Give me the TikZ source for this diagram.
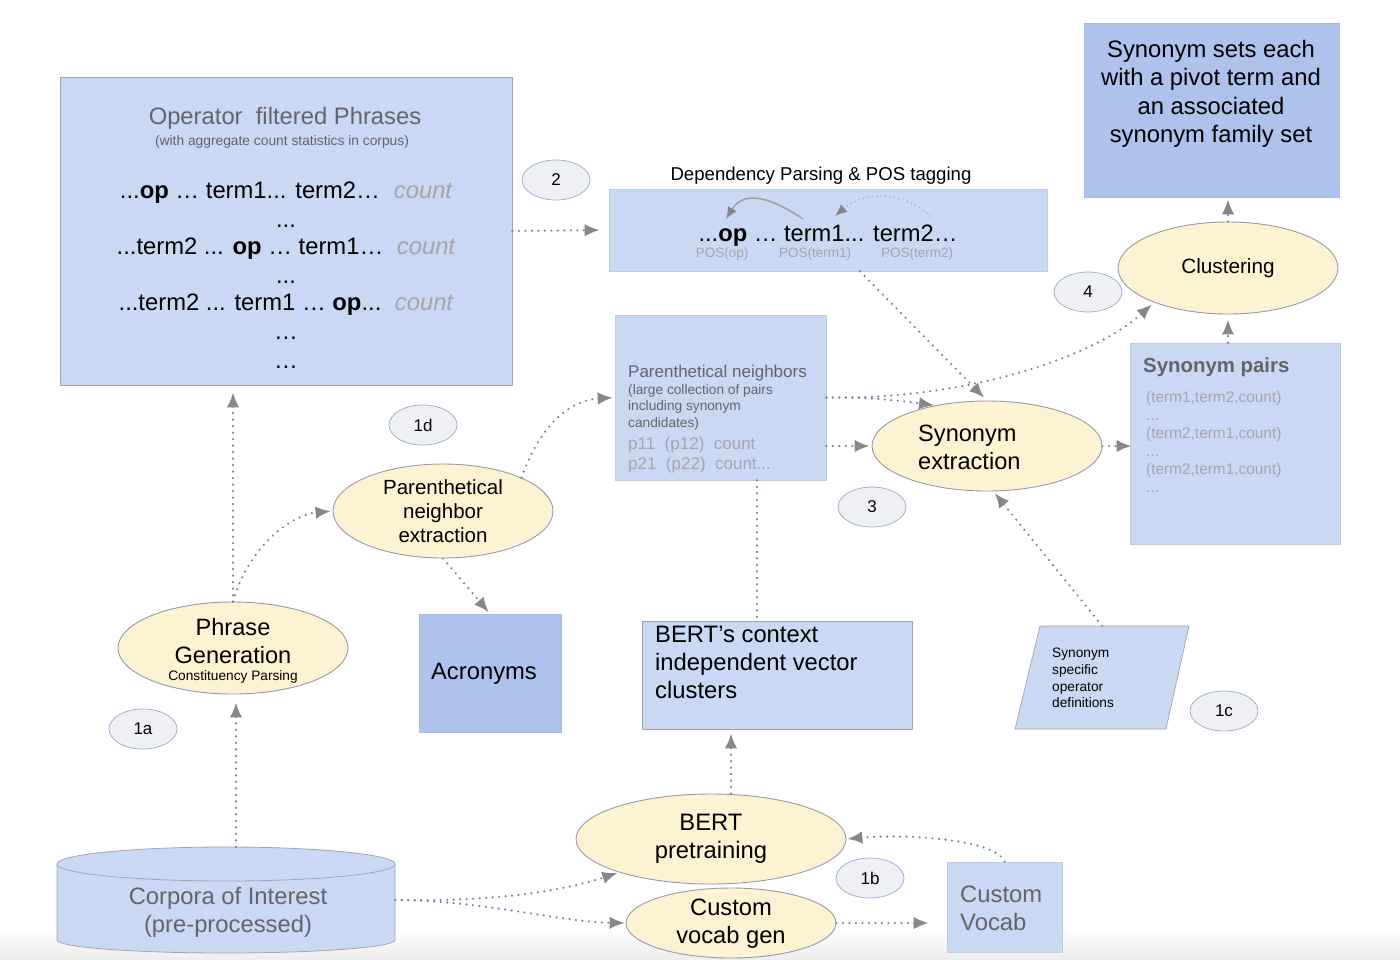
\documentclass[tikz,border=0pt]{standalone}
\usepackage{fontspec}
\setmainfont{Liberation Sans}
\usetikzlibrary{shapes.geometric,arrows.meta}
\definecolor{lblue}{RGB}{201,217,244}
\definecolor{dblue}{RGB}{173,195,235}
\definecolor{bordc}{RGB}{160,165,175}
\definecolor{cream}{RGB}{253,243,210}
\definecolor{procb}{RGB}{150,155,165}
\definecolor{tagfill}{RGB}{238,240,244}
\definecolor{tagb}{RGB}{150,170,205}
\definecolor{dotc}{RGB}{115,130,170}
\definecolor{tipc}{RGB}{135,135,135}
\definecolor{tgray}{RGB}{100,100,104}
\definecolor{lgray}{RGB}{165,165,168}
\newcommand\fsz[2]{\fontsize{#1}{#2}\selectfont}
\tikzset{
  box/.style={draw=bordc, fill=lblue, line width=0.7pt, inner sep=0pt},
  dbox/.style={draw=dblue!90!gray, fill=dblue, line width=0.5pt, inner sep=0pt},
  proc/.style={ellipse, draw=procb, fill=cream, line width=0.9pt, inner sep=0pt},
  tagell/.style={ellipse, draw=tagb, fill=tagfill, line width=0.7pt, inner sep=0pt,
    minimum width=68pt, minimum height=40pt, font=\fsz{17}{19}},
  txt/.style={inner sep=0pt, text=black},
  flow/.style={draw=dotc, line width=2.4pt, dash pattern=on 0pt off 6.5pt, line cap=round,
    -{Latex[length=15pt,width=12.5pt,color=tipc,fill=tipc]}},
  plain/.style={draw=dotc, line width=2.4pt, dash pattern=on 0pt off 6.5pt, line cap=round},
}
\begin{document}
\begin{tikzpicture}[x=1pt,y=-1pt]
\useasboundingbox (0,0) rectangle (1400,959);
\shade[top color=white, bottom color=gray!14] (0,928) rectangle (1400,959);

% ---------- boxes ----------
\node[box, minimum width=452pt, minimum height=308pt] (op) at (286,231) {};
\node[box, draw=lblue!85!gray, minimum width=438pt, minimum height=82pt] (dep) at (828,230) {};
\node[dbox, minimum width=255pt, minimum height=174pt] (sets) at (1211.5,110) {};
\node[box, draw=lblue!85!gray, minimum width=210pt, minimum height=201pt] (pairs) at (1235,443.5) {};
\node[box, draw=lblue!85!gray, minimum width=211pt, minimum height=165pt] (parbox) at (720.5,397.5) {};
\node[dbox, minimum width=142pt, minimum height=118pt] (acro) at (490,673) {};
\node[box, minimum width=270pt, minimum height=108pt] (bert) at (777,675) {};
\node[box, draw=lblue!85!gray, minimum width=115pt, minimum height=90pt] (cvocab) at (1004.5,907) {};

% parallelogram
\draw[box] (1040,626) -- (1189,626) -- (1166,729) -- (1015,729) -- cycle;
\node[inner sep=0pt, minimum width=150pt, minimum height=103pt] (syndef) at (1102,677.5) {};

% cylinder
\fill[lblue] (57,864) -- (57,940) arc[start angle=180,end angle=0,x radius=169,y radius=13] -- (395,864) -- cycle;
\draw[bordc, line width=0.8pt] (395,864) -- (395,940) arc[start angle=0,end angle=180,x radius=169,y radius=13] -- (57,864);
\draw[bordc, fill=lblue, line width=0.8pt] (226,864) ellipse[x radius=169, y radius=17];
\node[inner sep=0pt, minimum width=338pt, minimum height=106pt] (corp) at (226,900) {};

% ---------- process ellipses ----------
\node[proc, minimum width=230pt, minimum height=90pt] (synex) at (987,446) {};
\node[proc, minimum width=220pt, minimum height=92pt] (clust) at (1228,268) {};
\node[proc, minimum width=220pt, minimum height=94pt] (parext) at (443,511) {};
\node[proc, minimum width=230pt, minimum height=92pt] (pg) at (233,648) {};
\node[proc, minimum width=270pt, minimum height=90pt] (bertpre) at (711,839) {};
\node[proc, minimum width=210pt, minimum height=70pt] (vocgen) at (731,923) {};

% ---------- tags ----------
\node[tagell] (t2) at (556,180) {2};
\node[tagell] (t4) at (1088,292) {4};
\node[tagell] (t1d) at (423,425) {1d};
\node[tagell] (t3) at (872,507) {3};
\node[tagell] (t1a) at (143,729) {1a};
\node[tagell] (t1c) at (1224,711) {1c};
\node[tagell] (t1b) at (870,878) {1b};

% ---------- texts ----------
\node[txt, text=tgray, font=\fsz{23.8}{28}] (opT) at (285,118) {Operator~ filtered Phrases};
\node[txt, text=tgray, font=\fsz{13.8}{16}] (opS) at (282,142) {(with aggregate count statistics in corpus)};
\node[txt, anchor=base, font=\fsz{23.8}{28}] (r1) at (250,198) {...\textbf{op} … term1... term2…};
\node[txt, anchor=base, text=lgray, font=\fsz{23.8}{28}\itshape] (c1) at (423,198) {count};
\node[txt, anchor=base, font=\fsz{23.8}{28}] (d1) at (286,227) {...};
\node[txt, anchor=base, font=\fsz{23.8}{28}] (r2) at (250,254) {...term2 ... \textbf{op} … term1…};
\node[txt, anchor=base, text=lgray, font=\fsz{23.8}{28}\itshape] (c2) at (426,254) {count};
\node[txt, anchor=base, font=\fsz{23.8}{28}] (d2) at (286,283) {...};
\node[txt, anchor=base, font=\fsz{23.8}{28}] (r3) at (250,310) {...term2 ... term1 … \textbf{op}...};
\node[txt, anchor=base, text=lgray, font=\fsz{23.8}{28}\itshape] (c3) at (424,310) {count};
\node[txt, anchor=base, font=\fsz{23.8}{28}] (d3) at (286,339) {…};
\node[txt, anchor=base, font=\fsz{23.8}{28}] (d4) at (286,368) {…};

\node[txt, font=\fsz{18.6}{22}] (depL) at (821,176) {Dependency Parsing \& POS tagging};
\node[txt, anchor=base, font=\fsz{23.7}{28}] (depT) at (828,241) {...\textbf{op} … term1... term2…};
\node[txt, text=lgray, font=\fsz{13.5}{15}] (pos1) at (722,254) {POS(op)};
\node[txt, text=lgray, font=\fsz{13.5}{15}] (pos2) at (815,254) {POS(term1)};
\node[txt, text=lgray, font=\fsz{13.5}{15}] (pos3) at (917,254) {POS(term2)};
\coordinate (a1s) at (803,219);
\coordinate (a1e) at (726,219);
\coordinate (a2s) at (930,216);
\coordinate (a2e) at (835,216);
\draw[draw=gray!75, line width=1.5pt, -{Latex[length=12pt,width=10pt,color=tipc,fill=tipc]}]
  (a1s) .. controls (775,200) and (745,188) .. (a1e);
\draw[draw=dotc!70, line width=1.6pt, dash pattern=on 0pt off 4.5pt, line cap=round,
  -{Latex[length=12pt,width=10pt,color=tipc,fill=tipc]}]
  (a2s) .. controls (905,192) and (865,190) .. (a2e);

\node[txt, align=center, font=\fsz{23.8}{28.5}] (setsT) at (1211,94) {Synonym sets each\\with a pivot term and\\an associated\\synonym family set};
\node[txt, font=\fsz{20.7}{24}] (clT) at (1228,268) {Clustering};
\node[txt, anchor=west, text=tgray, font=\fsz{20.4}{24}\bfseries] (prT) at (1143,367) {Synonym pairs};
\node[txt, anchor=north west, align=left, text=lgray, font=\fsz{15.4}{18}] (prL) at (1146,391)
  {(term1,term2,count)\\...\\(term2,term1,count)\\...\\(term2,term1,count)\\...};

\node[txt, anchor=west, align=left, font=\fsz{23.6}{28}] (seT) at (918,447) {Synonym\\extraction};

\node[txt, anchor=west, text=tgray, font=\fsz{17}{20}] (pbT) at (628,373) {Parenthetical neighbors};
\node[txt, anchor=north west, align=left, text=tgray, font=\fsz{13.7}{16.5}] (pbS) at (628,384)
  {(large collection of pairs\\including synonym\\candidates)};
\node[txt, anchor=west, align=left, text=lgray, font=\fsz{17}{19.5}] (pbP) at (628,455)
  {p11~ (p12)~ count\\p21~ (p22)~ count...};

\node[txt, align=center, font=\fsz{20.5}{24}] (peT) at (443,511) {Parenthetical\\neighbor\\extraction};
\node[txt, font=\fsz{23.6}{27}] (pgA) at (233,627) {Phrase};
\node[txt, font=\fsz{23.6}{27}] (pgB) at (233,655) {Generation};
\node[txt, font=\fsz{13.7}{15}] (pgC) at (233,677) {Constituency Parsing};

\node[txt, font=\fsz{23.8}{28}] (acT) at (484,674) {Acronyms};
\node[txt, anchor=west, align=left, font=\fsz{23.8}{28}] (bcT) at (655,662) {BERT’s context\\independent vector\\clusters};
\node[txt, anchor=west, align=left, font=\fsz{13.7}{16.7}] (sdT) at (1052,678) {Synonym\\specific\\operator\\definitions};

\node[txt, align=center, font=\fsz{23.8}{28}] (bpT) at (711,839) {BERT\\pretraining};
\node[txt, align=center, font=\fsz{23.7}{28}] (vgT) at (731,924) {Custom\\vocab gen};
\node[txt, anchor=west, align=left, text=tgray, font=\fsz{23.8}{28}] (cvT) at (960,908) {Custom\\Vocab};
\node[txt, align=center, text=tgray, font=\fsz{23.8}{28}] (coT) at (228,912) {Corpora of Interest\\(pre-processed)};

% ---------- connectors ----------
\coordinate (xv) at (757,0);
\coordinate (xb) at (731,0);
\coordinate (xc) at (236,0);

\draw[flow, shorten >=9pt] (op.east) -- (dep.west);
\draw[flow, shorten >=4pt] ([xshift=32pt]dep.south) -- (synex.north);
\draw[flow, shorten >=1pt] (parbox.east) .. controls (850,397) and (880,398) .. (synex.142);
\draw[flow, shorten >=3pt] (parbox.east) .. controls (960,400) and (1090,360) .. (clust.205);
\draw[flow, shorten >=2pt] (parbox.east |- synex.west) -- (synex.west);
\draw[flow, shorten >=-2pt] (synex.east) -- (synex.east -| pairs.west);
\draw[flow, shorten >=5pt] (clust.south |- pairs.north) -- (clust.south);
\draw[flow, shorten >=2pt] (clust.north) -- (clust.north |- sets.south);
\draw[plain] (xv |- parbox.south) -- (xv |- bert.north);
\draw[flow, shorten >=4pt] (xb |- bertpre.north) -- (xb |- bert.south);
\draw[flow, shorten >=2pt] (syndef.north) -- (synex.-82);
\draw[flow, shorten >=2pt] (corp.east) .. controls (500,902) and (565,890) .. (bertpre.200);
\draw[flow, shorten >=1pt] (corp.east) .. controls (480,900) and (560,922) .. (vocgen.west);
\draw[flow, shorten >=18pt] (vocgen.east) -- (vocgen.east -| cvocab.west);
\draw[flow, shorten >=1pt] (cvocab.north) .. controls (995,838) and (900,834) .. (bertpre.east);
\draw[flow, shorten >=8pt] (xc |- corp.north) -- (xc |- pg.south);
\draw[flow, shorten >=7pt] (pg.north) -- (pg.north |- op.south);
\draw[flow, shorten >=2pt] (pg.north) .. controls (248,548) and (290,515) .. (parext.west);
\draw[flow, shorten >=2pt] (parext.23) .. controls (540,425) and (570,400) .. (parbox.west);
\draw[flow, shorten >=2pt] (parext.south) -- (acro.north);
\end{tikzpicture}
\end{document}
